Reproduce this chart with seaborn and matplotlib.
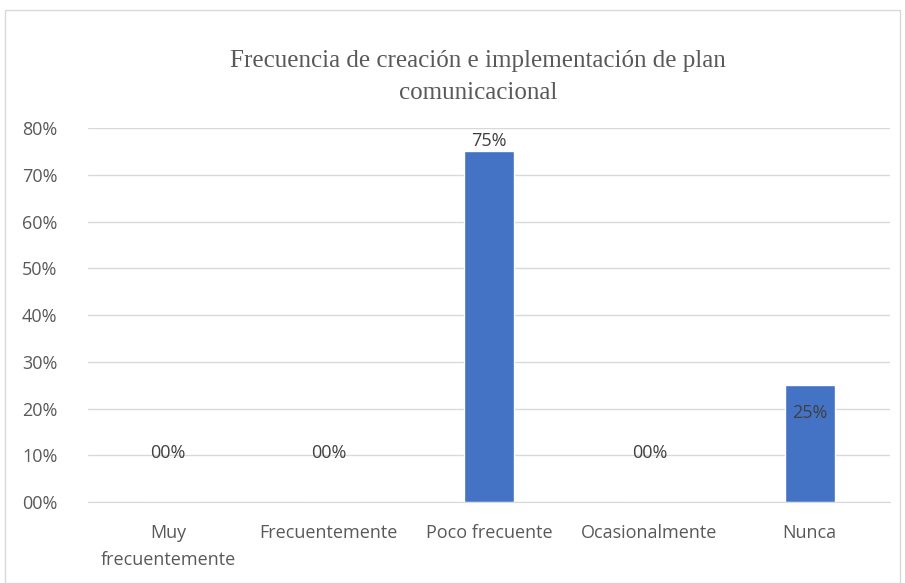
import matplotlib
matplotlib.use("Agg")
import matplotlib.pyplot as plt
from matplotlib.patches import Rectangle
from matplotlib.ticker import FuncFormatter
import pandas as pd
import seaborn as sns

categories = ["Muy\nfrecuentemente", "Frecuentemente", "Poco frecuente", "Ocasionalmente", "Nunca"]
values = [0.0, 0.0, 0.75, 0.0, 0.25]
value_labels = ["00%", "00%", "75%", "00%", "25%"]
yticks = [0.0, 0.1, 0.2, 0.3, 0.4, 0.5, 0.6, 0.7, 0.8]

df = pd.DataFrame({"cat": categories, "val": values})

sns.set_style("white")
plt.rcParams["font.family"] = ["Open Sans", "DejaVu Sans"]

fig = plt.figure(figsize=(9.05, 5.83), dpi=100)
ax = fig.add_axes([88 / 905, 1 - 502 / 583, (890 - 88) / 905, (502 - 128) / 583])

# light border round the chart area, like the Excel frame
fig.patches.append(Rectangle((5 / 905, 0), 895 / 905, 1 - 10 / 583, transform=fig.transFigure,
                             fill=False, edgecolor="#d9d9d9", linewidth=1.0))

sns.barplot(data=df, x="cat", y="val", color="#4472c4", width=0.31, saturation=1, ax=ax)

ax.set_ylim(0, 0.8)
ax.set_yticks(yticks)
ax.yaxis.set_major_formatter(FuncFormatter(lambda v, p: "%02d%%" % round(v * 100)))
ax.grid(axis="y", color="#d9d9d9", linewidth=1.0)
ax.set_axisbelow(True)
for s in ["top", "right", "left"]:
    ax.spines[s].set_visible(False)
ax.spines["bottom"].set_color("#d9d9d9")
ax.tick_params(axis="both", length=0, labelsize=13, colors="#595959")
ax.tick_params(axis="y", pad=22)
ax.tick_params(axis="x", pad=16)
for t in ax.get_xticklabels():
    t.set_linespacing(1.6)
ax.set_xlabel("")
ax.set_ylabel("")

for i, (v, lab) in enumerate(zip(values, value_labels)):
    if v == 0:
        ax.text(i, 0.105, lab, ha="center", va="center", fontsize=13, color="#404040")
    elif v > 0.5:
        ax.text(i, v + 0.004, lab, ha="center", va="bottom", fontsize=13, color="#404040")
    else:
        ax.text(i, 0.19, lab, ha="center", va="center", fontsize=13, color="#404040")

fig.text(478 / 905, 1 - 77 / 583, "Frecuencia de creación e implementación de plan\ncomunicacional",
         ha="center", va="center", fontsize=18, color="#595959",
         family=["Liberation Serif", "DejaVu Serif"], linespacing=1.55)

fig.savefig("out.png", dpi=100)
